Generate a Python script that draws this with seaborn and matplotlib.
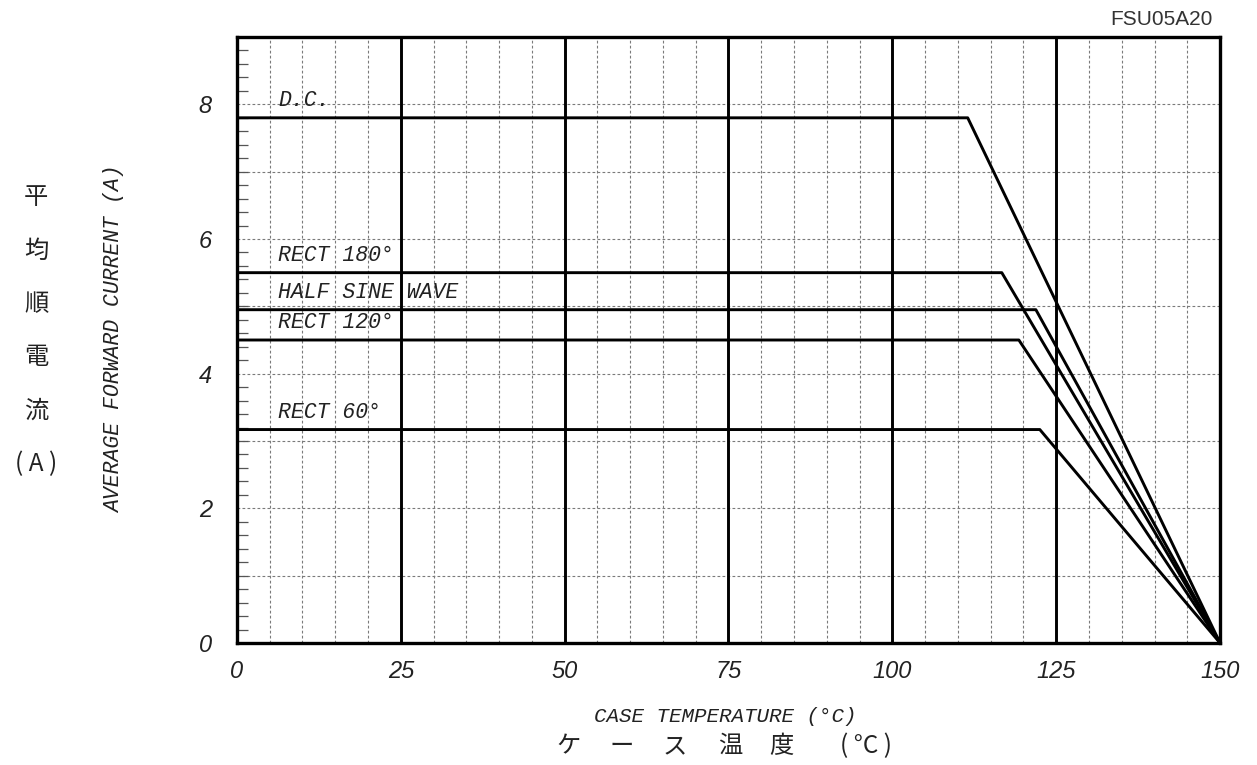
import numpy as np
import pandas as pd
import matplotlib
matplotlib.use('Agg')
import matplotlib.pyplot as plt
import seaborn as sb

# derating curves: flat current up to the knee temperature, then straight down to 150 degC
curve_names = ['D.C.', 'RECT 180°', 'HALF SINE WAVE', 'RECT 120°', 'RECT 60°']
flat_current = [7.8, 5.5, 4.95, 4.5, 3.17]
knee_temp = [111.5, 116.7, 121.9, 119.3, 122.5]
t_start = 0
t_end = 150

x_ticks = [0, 25, 50, 75, 100, 125, 150]
y_ticks = [0, 2, 4, 6, 8]
jp_ylabel = ['平', '均', '順', '電', '流', '( A )']
jp_xlabel = ['ケ', 'ー', 'ス', '温', '度', '( °C )']

if __name__ == '__main__':
    rows = []
    for name, cur, knee in zip(curve_names, flat_current, knee_temp):
        rows.append({'curve': name, 'temp': t_start, 'current': cur})
        rows.append({'curve': name, 'temp': knee, 'current': cur})
        rows.append({'curve': name, 'temp': t_end, 'current': 0})
    df = pd.DataFrame(rows)

    sb.set_style('white')
    mono = ['Liberation Mono', 'DejaVu Sans Mono']
    narrow = ['Liberation Sans Narrow', 'Liberation Sans', 'DejaVu Sans']
    jp = ['Noto Sans CJK JP', 'DejaVu Sans']
    plt.rcParams['font.family'] = mono
    ink = '#222222'

    fig = plt.figure(figsize=(12.57, 7.65), dpi=100)
    ax = fig.add_axes([0.1885, 0.1595, 0.7821, 0.7921])

    # grid: dashed every 5 degC / 1 A, solid every 25 degC
    for t in range(5, 150, 5):
        if t % 25 == 0:
            ax.axvline(t, color='black', lw=2.1, zorder=1)
        else:
            ax.axvline(t, color='#7a7a7a', lw=0.8, ls=(0, (2.5, 2)), zorder=0)
    for a in range(1, 9):
        ax.axhline(a, color='#7a7a7a', lw=0.8, ls=(0, (2.5, 2)), zorder=0)

    sb.lineplot(data=df, x='temp', y='current', hue='curve',
                palette=['black'] * len(curve_names), legend=False,
                estimator=None, sort=False, lw=2.1, ax=ax, zorder=3)

    for name, cur in zip(curve_names, flat_current):
        ax.text(6.3, cur + 0.1, name, fontsize=15.5, style='italic',
                color=ink, va='bottom', ha='left', family=mono)

    ax.set_xlim(0, 150)
    ax.set_ylim(0, 9)
    ax.set_xticks(x_ticks)
    ax.set_yticks(y_ticks)
    ax.set_xticklabels([str(v) for v in x_ticks], fontsize=17, style='italic',
                       color=ink, family=narrow)
    ax.set_yticklabels([str(v) for v in y_ticks], fontsize=17, style='italic',
                       color=ink, family=narrow)
    ax.set_yticks(np.arange(0, 9.01, 0.2), minor=True)
    ax.tick_params(axis='x', which='major', length=0, pad=12)
    ax.tick_params(axis='y', which='major', length=0, pad=18)
    ax.tick_params(axis='y', which='minor', direction='in', length=8, width=0.9,
                   color='#555555', left=True)
    ax.set_xlabel('')
    ax.set_ylabel('')
    for s in ax.spines.values():
        s.set_linewidth(2.4)
        s.set_color('black')
        s.set_visible(True)

    fig.text(0.0915, 0.556, 'AVERAGE FORWARD CURRENT (A)', rotation=90, fontsize=15.5,
             style='italic', color=ink, ha='center', va='center', family=mono)
    fig.text(0.577, 0.063, 'CASE TEMPERATURE (°C)', fontsize=15, style='italic',
             color=ink, ha='center', va='center', family=mono)

    jp_x_pos = [569, 622, 675, 730, 781, 866]
    for ch, px in zip(jp_xlabel, jp_x_pos):
        fig.text(px / 1257, 1 - 746 / 765, ch, fontsize=17.5, color=ink,
                 ha='center', va='center', family=jp)
    for i, ch in enumerate(jp_ylabel):
        fig.text(36 / 1257, 1 - (197 + 53.5 * i) / 765, ch, fontsize=17.5, color=ink,
                 ha='center', va='center', family=jp)

    fig.text(0.965, 0.975, 'FSU05A20', fontsize=15, color='#333333', ha='right',
             va='center', family=narrow)

    fig.savefig('out.png', dpi=100)
